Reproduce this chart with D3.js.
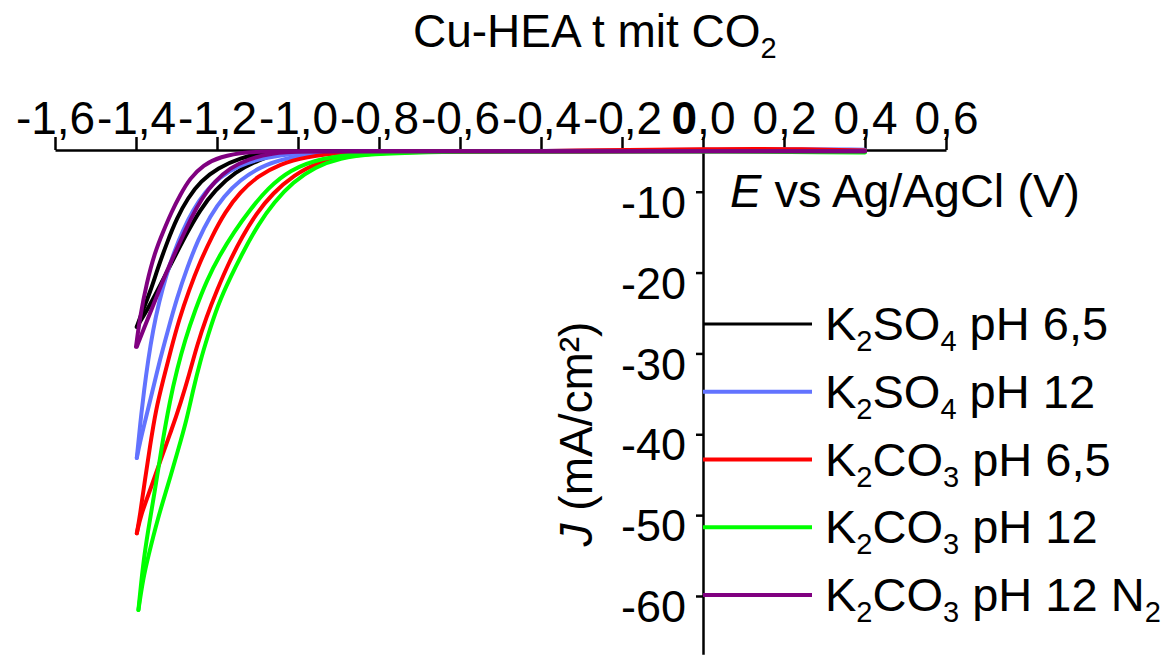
<!DOCTYPE html>
<html>
<head>
<meta charset="utf-8">
<script src="https://cdn.jsdelivr.net/npm/d3@7"></script>
<style>
  body { margin: 0; background: #fff; }
  svg text { font-family: "Liberation Sans", Arial, sans-serif; fill: #000; }
</style>
</head>
<body>
<svg id="chart" width="1170" height="657"></svg>
<script>
// axis ticks
var potentialTicks = [-1.6, -1.4, -1.2, -1.0, -0.8, -0.6, -0.4, -0.2, 0, 0.2, 0.4, 0.6];
var potentialMinor = [-1.5, -1.3, -1.1, -0.9, -0.7, -0.5, -0.3, -0.1, 0.1, 0.3, 0.5];
var currentTicks = [-10, -20, -30, -40, -50, -60];
var currentMinor = [-15, -25, -35, -45, -55, -65];

// [E (V), J (mA/cm2)]; each sample has two sweep branches meeting at -1.4 V
var k2so4_65_a = [[0.4, -4.95], [0.1, -4.95], [-0.3, -5.0], [-0.7, -5.0], [-0.98, -5.0], [-1.081, -5.09], [-1.143, -5.83],
  [-1.198, -7.07], [-1.24, -8.68], [-1.272, -10.78], [-1.299, -13.25], [-1.323, -16.22], [-1.346, -19.44],
  [-1.365, -22.4], [-1.383, -24.63], [-1.398, -26.7]];
var k2so4_65_b = [[0.4, -4.95], [0.1, -4.95], [-0.3, -5.0], [-0.7, -5.0], [-0.95, -5.0], [-1.037, -5.09], [-1.094, -5.96],
  [-1.156, -7.56], [-1.205, -9.79], [-1.242, -12.26], [-1.277, -15.35], [-1.311, -18.69], [-1.346, -22.16],
  [-1.375, -24.88], [-1.398, -26.73]];

var k2so4_12_a = [[0.4, -4.8], [0.2, -4.7], [0.0, -4.8], [-0.4, -5.0], [-0.88, -5.0], [-0.995, -5.09], [-1.089, -5.83],
  [-1.148, -6.82], [-1.193, -8.18], [-1.23, -10.04], [-1.259, -12.26], [-1.284, -14.74], [-1.306, -17.46],
  [-1.326, -20.43], [-1.343, -23.64], [-1.358, -27.1], [-1.37, -30.81], [-1.38, -34.52], [-1.39, -38.85], [-1.398, -42.93]];
var k2so4_12_b = [[0.4, -4.9], [0.2, -4.9], [0.0, -4.9], [-0.4, -5.0], [-0.84, -5.0], [-0.933, -5.09], [-1.032, -5.83],
  [-1.094, -6.94], [-1.143, -8.55], [-1.183, -10.53], [-1.217, -13.0], [-1.247, -15.97], [-1.274, -19.44],
  [-1.299, -23.15], [-1.321, -27.1], [-1.341, -30.81], [-1.36, -34.77], [-1.378, -38.48], [-1.39, -40.95], [-1.398, -42.93]];

var k2co3_65_a = [[0.4, -4.9], [0.2, -4.7], [0.05, -4.7], [-0.4, -5.0], [-0.78, -5.0], [-0.884, -5.09], [-0.983, -5.71],
  [-1.044, -6.57], [-1.099, -8.06], [-1.143, -10.04], [-1.18, -12.51], [-1.212, -15.48], [-1.242, -18.69],
  [-1.269, -22.16], [-1.294, -25.87], [-1.314, -29.58], [-1.333, -33.29], [-1.351, -36.99], [-1.365, -41.32],
  [-1.378, -45.65], [-1.39, -49.98], [-1.398, -52.25]];
var k2co3_65_b = [[0.4, -4.95], [0.1, -4.95], [-0.3, -5.0], [-0.62, -5.0], [-0.748, -5.09], [-0.872, -5.46], [-0.951, -6.33],
  [-1.01, -7.93], [-1.062, -10.16], [-1.104, -12.76], [-1.138, -15.6], [-1.17, -18.69], [-1.2, -22.16],
  [-1.227, -25.62], [-1.249, -28.96], [-1.269, -32.67], [-1.289, -36.01], [-1.314, -39.72], [-1.341, -43.43],
  [-1.365, -46.89], [-1.388, -49.98], [-1.398, -52.25]];

var k2co3_12_a = [[0.4, -5.15], [0.3, -5.15], [0.1, -5.0], [-0.4, -5.0], [-0.7, -5.0], [-0.822, -5.09], [-0.946, -5.83],
  [-1.02, -7.32], [-1.074, -9.54], [-1.119, -12.26], [-1.158, -14.98], [-1.193, -17.83], [-1.225, -20.92],
  [-1.254, -24.63], [-1.279, -28.34], [-1.299, -32.05], [-1.316, -35.76], [-1.336, -41.32], [-1.353, -46.89],
  [-1.37, -51.84], [-1.383, -56.16], [-1.394, -61.73]];
var k2co3_12_b = [[0.4, -5.0], [0.1, -5.0], [-0.3, -5.0], [-0.55, -5.0], [-0.674, -5.09], [-0.822, -5.34], [-0.896, -5.83],
  [-0.958, -6.94], [-1.012, -8.8], [-1.059, -11.27], [-1.099, -14.12], [-1.133, -17.21], [-1.168, -20.67],
  [-1.198, -24.01], [-1.222, -27.72], [-1.242, -31.06], [-1.259, -34.52], [-1.275, -38.23], [-1.296, -41.94],
  [-1.321, -46.27], [-1.346, -50.35], [-1.37, -55.14], [-1.383, -58.02], [-1.394, -61.73]];

var k2co3_12n2_a = [[0.4, -5.0], [0.1, -5.0], [-0.4, -5.0], [-0.8, -5.0], [-1.05, -5.0], [-1.127, -5.05], [-1.193, -5.67],
  [-1.234, -6.7], [-1.267, -8.34], [-1.291, -10.41], [-1.312, -12.47], [-1.333, -14.95], [-1.353, -17.42],
  [-1.374, -21.33], [-1.39, -25.46], [-1.4, -29.17]];
var k2co3_12n2_b = [[0.4, -5.0], [0.1, -5.0], [-0.4, -5.0], [-0.8, -5.0], [-1.0, -5.0], [-1.064, -5.21], [-1.123, -5.96],
  [-1.168, -7.07], [-1.205, -8.68], [-1.237, -10.78], [-1.264, -13.25], [-1.289, -15.97], [-1.314, -18.69],
  [-1.338, -21.54], [-1.36, -24.38], [-1.38, -26.86], [-1.398, -29.17]];

var seriesNames = [
  [["K", ""], ["2", "sub"], ["SO", ""], ["4", "sub"], [" pH 6,5", ""]],
  [["K", ""], ["2", "sub"], ["SO", ""], ["4", "sub"], [" pH 12", ""]],
  [["K", ""], ["2", "sub"], ["CO", ""], ["3", "sub"], [" pH 6,5", ""]],
  [["K", ""], ["2", "sub"], ["CO", ""], ["3", "sub"], [" pH 12", ""]],
  [["K", ""], ["2", "sub"], ["CO", ""], ["3", "sub"], [" pH 12 N", ""], ["2", "sub"]]
];
var seriesBranches = [
  [k2so4_65_a, k2so4_65_b],
  [k2so4_12_a, k2so4_12_b],
  [k2co3_65_a, k2co3_65_b],
  [k2co3_12_a, k2co3_12_b],
  [k2co3_12n2_a, k2co3_12n2_b]
];
var seriesColors = ["#000000", "#6273ff", "#ff0000", "#00ff00", "#800080"];

var svg = d3.select("#chart");

var x = d3.scaleLinear().domain([-1.6, 0.6]).range([55, 946]);
var y = d3.scaleLinear().domain([-4.84, -67.2]).range([150, 654.2]);

function comma1(v) {
    return d3.format(".1f")(v).replace(".", ",").replace("\u2212", "-");
}
function hyphen(v) {
    return d3.format("d")(v).replace("\u2212", "-");
}

// title
var title = svg.append("text")
    .attr("x", 413).attr("y", 47)
    .style("font-size", "46px");
title.append("tspan").text("Cu-HEA t mit CO");
title.append("tspan").attr("dy", 11).style("font-size", "29px").text("2");

// x axis (top)
var xAxis = svg.append("g").attr("transform", "translate(0," + y(-4.84) + ")");
xAxis.call(d3.axisBottom(x).tickValues(potentialMinor).tickSize(7).tickFormat("").tickSizeOuter(0));
xAxis.call(d3.axisTop(x).tickValues(potentialTicks).tickSize(13).tickPadding(3).tickFormat(comma1).tickSizeOuter(0));
xAxis.selectAll("path.domain").attr("stroke-width", 2.5);
xAxis.selectAll("line").attr("stroke-width", 2.5);
xAxis.selectAll("text").style("font-size", "46px").attr("fill", "#000");
// bold zero at the origin
xAxis.selectAll(".tick text").filter(function (d) { return d === 0; })
    .text(null)
    .call(function (t) {
        t.append("tspan").style("font-weight", "bold").text("0");
        t.append("tspan").text(",0");
    });

// y axis through E = 0
var yAxis = svg.append("g").attr("transform", "translate(" + x(0) + ",0)");
yAxis.call(d3.axisLeft(y).tickValues(currentMinor).tickSize(15).tickFormat("").tickSizeOuter(0));
yAxis.call(d3.axisLeft(y).tickValues(currentTicks).tickSize(7).tickPadding(10).tickFormat(hyphen).tickSizeOuter(0));
yAxis.selectAll("path.domain").attr("stroke-width", 2.5);
yAxis.selectAll("line").attr("stroke-width", 2.5);
yAxis.selectAll("text").style("font-size", "45px").attr("fill", "#000").attr("dy", "0.57em");

// axis titles
var xt = svg.append("text").attr("x", 730).attr("y", 207).style("font-size", "47px");
xt.append("tspan").style("font-style", "italic").text("E");
xt.append("tspan").text(" vs Ag/AgCl (V)");

var yt = svg.append("text")
    .attr("transform", "translate(592,434) rotate(-90)")
    .attr("text-anchor", "middle")
    .style("font-size", "46px");
yt.append("tspan").style("font-style", "italic").text("J");
yt.append("tspan").text(" (mA/cm\u00B2)");

// curves
var line = d3.line()
    .x(function (d) { return x(d[0]); })
    .y(function (d) { return y(d[1]); })
    .curve(d3.curveBasis);

seriesBranches.forEach(function (branches, i) {
    branches.forEach(function (b) {
        svg.append("path")
            .datum(b)
            .attr("d", line)
            .attr("fill", "none")
            .attr("stroke", seriesColors[i])
            .attr("stroke-width", 4)
            .attr("stroke-linejoin", "round")
            .attr("stroke-linecap", "round");
    });
});

// legend
var legendY = d3.scaleLinear().domain([0, 4]).range([324, 595]);
seriesNames.forEach(function (parts, i) {
    var ly = legendY(i);
    svg.append("line")
        .attr("x1", x(0)).attr("x2", 812)
        .attr("y1", ly).attr("y2", ly)
        .attr("stroke", seriesColors[i])
        .attr("stroke-width", i === 0 ? 3 : 4);
    var t = svg.append("text").attr("x", 825).attr("y", ly + 16).style("font-size", "47px");
    var shifted = false;
    parts.forEach(function (p) {
        var ts = t.append("tspan").text(p[0]);
        if (p[1] === "sub") {
            ts.style("font-size", "29px").attr("dy", shifted ? 0 : 11);
            shifted = true;
        } else if (shifted) {
            ts.attr("dy", -11);
            shifted = false;
        }
    });
});
</script>
</body>
</html>
